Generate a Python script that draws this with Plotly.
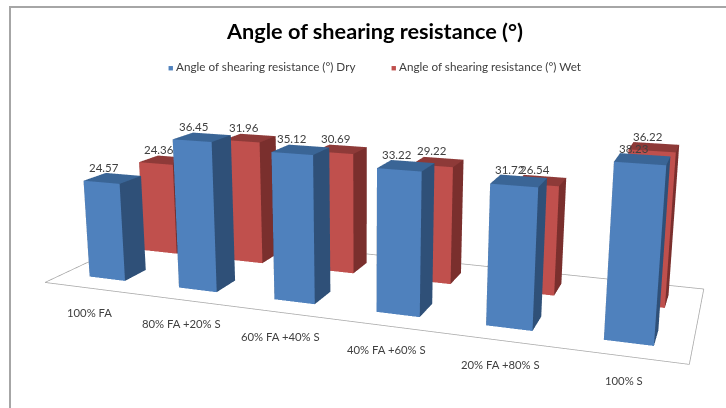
import plotly.graph_objects as go

categories = ["100% FA", "80% FA +20% S", "60% FA +40% S", "40% FA +60% S", "20% FA +80% S", "100% S"]
dry = [24.57, 36.45, 35.12, 33.22, 31.72, 38.23]
wet = [24.36, 31.96, 30.69, 29.22, 26.54, 36.22]
series_names = ["Angle of shearing resistance (°) Dry", "Angle of shearing resistance (°) Wet"]
title_text = "Angle of shearing resistance (°)"

ZMAX = 45.0
BX, BY = 0.2016, 0.1910
BLUE = ("#4F81BD", "#2F5078", "#3A6596")
RED = ("#C0504D", "#7A2F2D", "#8E3A38")
TXT = "#404040"
FONT = "Lato"

# The reference has a long-lens view: plotly's fixed 45 degree field of view only matches it
# when the scene is larger than the window, so the plot is made larger and centred on the window.
W, H = 1584, 890
OFF_X, OFF_Y = (W - 726) // 2, (H - 408) // 2


def px(x):
    return (x + OFF_X) / W


def py(y):
    return 1 - (y + OFF_Y) / H


def bars(values, depth, colors, name):
    xs, ys, zs, ii, jj, kk, fc = [], [], [], [], [], [], []
    front, side, top = colors
    quads = [((0, 1, 5, 4), front), ((1, 2, 6, 5), side), ((4, 5, 6, 7), top),
             ((0, 3, 7, 4), side), ((2, 3, 7, 6), side)]
    for n, v in enumerate(values):
        cx, cy = n + 0.5, depth + 0.5
        base = len(xs)
        for z in (0, v):
            xs += [cx - BX, cx + BX, cx + BX, cx - BX]
            ys += [cy - BY, cy - BY, cy + BY, cy + BY]
            zs += [z] * 4
        for q, col in quads:
            a, b, c, d = [base + t for t in q]
            ii += [a, a]; jj += [b, c]; kk += [c, d]; fc += [col, col]
    return go.Mesh3d(x=xs, y=ys, z=zs, i=ii, j=jj, k=kk, facecolor=fc, name=name, flatshading=True,
                     lighting=dict(ambient=1, diffuse=0, specular=0, roughness=1, fresnel=0),
                     hoverinfo="skip", showlegend=False)


fig = go.Figure()
fig.add_trace(bars(dry, 0, BLUE, series_names[0]))
fig.add_trace(bars(wet, 1, RED, series_names[1]))
fig.add_trace(go.Scatter3d(x=[0, 6, 6, 0, 0], y=[0, 0, 2, 2, 0], z=[0, 0, 0, 0, 0], mode="lines",
                           line=dict(color="#A6A6A6", width=1.5), hoverinfo="skip", showlegend=False))

ann = []
for n, c in enumerate(categories):
    ann.append(dict(x=n + 0.5, y=0, z=0, text=c, showarrow=False, yshift=-24,
                    font=dict(family=FONT, size=11.3, color=TXT)))
for depth, vals, xsh in ((0, dry, -9), (1, wet, -6)):
    for n, v in enumerate(vals):
        ann.append(dict(x=n + 0.5, y=depth + 0.5, z=v, text="%.2f" % v, showarrow=False, yshift=11, xshift=xsh,
                        font=dict(family=FONT, size=11.5, color=TXT)))

axis = dict(visible=False, showgrid=False, zeroline=False, showbackground=False)
fig.update_layout(
    width=W, height=H, margin=dict(l=0, r=0, t=0, b=0), paper_bgcolor="white", showlegend=False,
    scene=dict(
        domain=dict(x=[0, 1], y=[0, 1]), bgcolor="rgba(0,0,0,0)",
        xaxis=dict(axis, range=[0, 6]), yaxis=dict(axis, range=[0, 2]), zaxis=dict(axis, range=[0, ZMAX]),
        aspectmode="manual", aspectratio=dict(x=2.0, y=0.6650, z=0.5909),
        camera=dict(eye=dict(x=1.1081, y=-3.0829, z=0.7751), center=dict(x=-0.0281, y=0, z=-0.0288),
                    up=dict(x=0.0014, y=0, z=1), projection=dict(type="perspective")),
        annotations=ann),
    shapes=[dict(type="rect", xref="paper", yref="paper", x0=px(10), x1=px(740), y0=py(420), y1=py(7),
                 line=dict(color="#A6A6A6", width=2), fillcolor="rgba(0,0,0,0)")],
    annotations=[
        dict(text=title_text, x=px(374), y=py(31), xref="paper", yref="paper", showarrow=False,
             xanchor="center", yanchor="middle",
             font=dict(family=FONT, size=21.7, color="#000000", weight="bold")),
        dict(text='<span style="color:%s;font-size:9px">■</span> %s' % (BLUE[0], series_names[0]),
             x=px(166), y=py(66), xref="paper", yref="paper", xanchor="left", yanchor="middle", showarrow=False,
             font=dict(family=FONT, size=11.7, color=TXT)),
        dict(text='<span style="color:%s;font-size:9px">■</span> %s' % (RED[0], series_names[1]),
             x=px(389), y=py(66), xref="paper", yref="paper", xanchor="left", yanchor="middle", showarrow=False,
             font=dict(family=FONT, size=11.7, color=TXT)),
    ],
)
post = """
document.documentElement.style.overflow='hidden';
document.body.style.margin='0';
document.body.style.overflow='hidden';
var gd=document.getElementById('{plot_id}');
gd.style.position='absolute';
gd.style.left='-%dpx';
gd.style.top='-%dpx';
""" % (OFF_X, OFF_Y)
fig.write_html("out.html", post_script=post)
